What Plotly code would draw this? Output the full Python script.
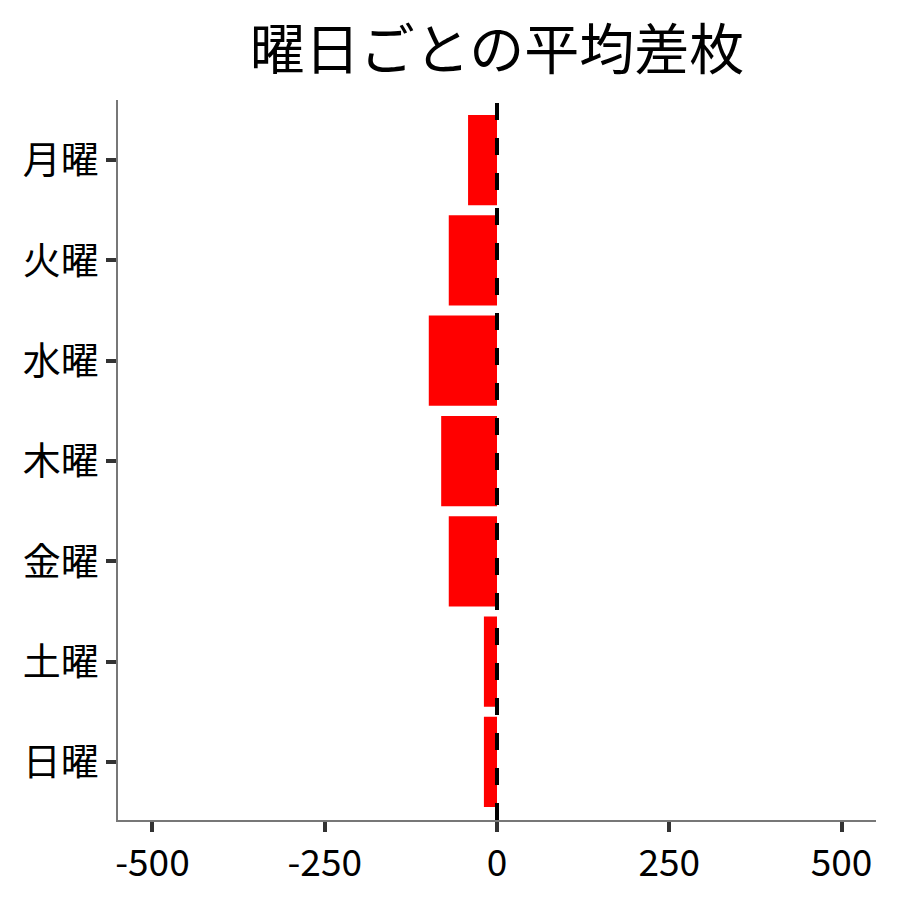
import plotly.graph_objects as go

days = ["月曜", "火曜", "水曜", "木曜", "金曜", "土曜", "日曜"]
avg_diff = [-42, -70, -99, -81, -70, -19, -19]
x_ticks = [-500, -250, 0, 250, 500]

font_name = "Noto Sans CJK JP"

fig = go.Figure()
fig.add_trace(go.Bar(
    x=avg_diff,
    y=days,
    orientation="h",
    marker=dict(color="#FF0000", line=dict(width=0)),
    width=0.9,
    showlegend=False,
))

# zero line
fig.add_vline(x=0, line=dict(color="black", width=4, dash="17px,18px"))

fig.update_layout(
    width=900,
    height=900,
    margin=dict(l=110, r=32, t=92, b=88),
    paper_bgcolor="white",
    plot_bgcolor="white",
    font=dict(family=font_name, color="black"),
    title=dict(
        text="曜日ごとの平均差枚",
        font=dict(family=font_name, size=55, color="black"),
        x=0.5,
        xref="paper",
        xanchor="center",
        y=1 - 42 / 900,
        yref="container",
        yanchor="middle",
    ),
)

fig.update_xaxes(
    range=[-550, 550],
    tickvals=x_ticks,
    ticktext=[str(v) for v in x_ticks],
    showgrid=False,
    zeroline=False,
    showline=True,
    linecolor="#777777",
    linewidth=1.5,
    ticks="outside",
    ticklen=10,
    tickwidth=3.5,
    tickcolor="#333333",
    tickfont=dict(family=font_name, size=37, color="black"),
)

fig.update_yaxes(
    categoryorder="array",
    categoryarray=days,
    range=[6.58, -0.6],
    showgrid=False,
    zeroline=False,
    showline=True,
    linecolor="#777777",
    linewidth=1.5,
    ticks="outside",
    ticklen=10,
    tickwidth=3.5,
    tickcolor="#333333",
    tickfont=dict(family=font_name, size=38, color="black"),
)

fig.write_html("out.html")
